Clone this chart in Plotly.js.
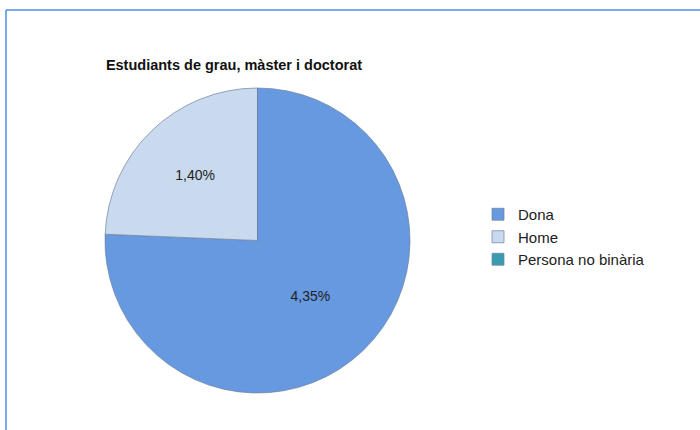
<!DOCTYPE html>
<html>
<head>
<meta charset="utf-8">
<script src="https://cdn.plot.ly/plotly-3.0.1.min.js"></script>
<style>html,body{margin:0;padding:0;background:#fff;}#chart{width:700px;height:430px;}</style>
</head>
<body>
<div id="chart"></div>
<script>
const categories = ["Dona", "Home", "Persona no binària"];
const values = [4.35, 1.40, 0];
const valueLabels = ["4,35%", "1,40%", ""];
const colors = ["#6699e0", "#c9daee", "#3a9bb0"];
const chartTitle = "Estudiants de grau, màster i doctorat";

const W = 700, H = 430;
const cx = 257.5, cy = 240.5, r = 152.5;

const trace = {
  type: "pie",
  labels: categories,
  values: values,
  text: valueLabels,
  texttemplate: "%{text}",
  textposition: "inside",
  insidetextorientation: "horizontal",
  textfont: {family: "Liberation Sans, Arial, sans-serif", size: 14, color: "#222"},
  sort: false,
  direction: "clockwise",
  rotation: 0,
  marker: {colors: colors, line: {color: "rgba(110,130,160,0.7)", width: 1}},
  domain: {x: [(cx - r) / W, (cx + r) / W], y: [(H - cy - r) / H, (H - cy + r) / H]},
  hoverinfo: "label+value"
};

const layout = {
  width: W, height: H,
  margin: {l: 0, r: 0, t: 0, b: 0},
  paper_bgcolor: "#fff",
  font: {family: "Liberation Sans, Arial, sans-serif", color: "#222"},
  title: {
    text: "<b>" + chartTitle + "</b>",
    x: 234 / W, xanchor: "center",
    y: 1 - 65 / H, yanchor: "middle",
    xref: "paper", yref: "paper",
    font: {family: "Liberation Sans, Arial, sans-serif", size: 14.5, color: "#111"}
  },
  showlegend: true,
  legend: {
    x: 478 / W, xanchor: "left",
    y: 1 - 198 / H, yanchor: "top",
    font: {family: "Liberation Sans, Arial, sans-serif", size: 15, color: "#222"},
    bgcolor: "rgba(0,0,0,0)",
    itemclick: false
  },
  shapes: [
    {type: "line", xref: "paper", yref: "paper", x0: 6 / W, x1: 1, y0: 1 - 10 / H, y1: 1 - 10 / H, line: {color: "#4a90e2", width: 1.5}},
    {type: "line", xref: "paper", yref: "paper", x0: 6 / W, x1: 6 / W, y0: 1 - 10 / H, y1: 0, line: {color: "#4a90e2", width: 1.5}}
  ]
};

Plotly.newPlot("chart", [trace], layout, {displayModeBar: false, staticPlot: true});
</script>
</body>
</html>
